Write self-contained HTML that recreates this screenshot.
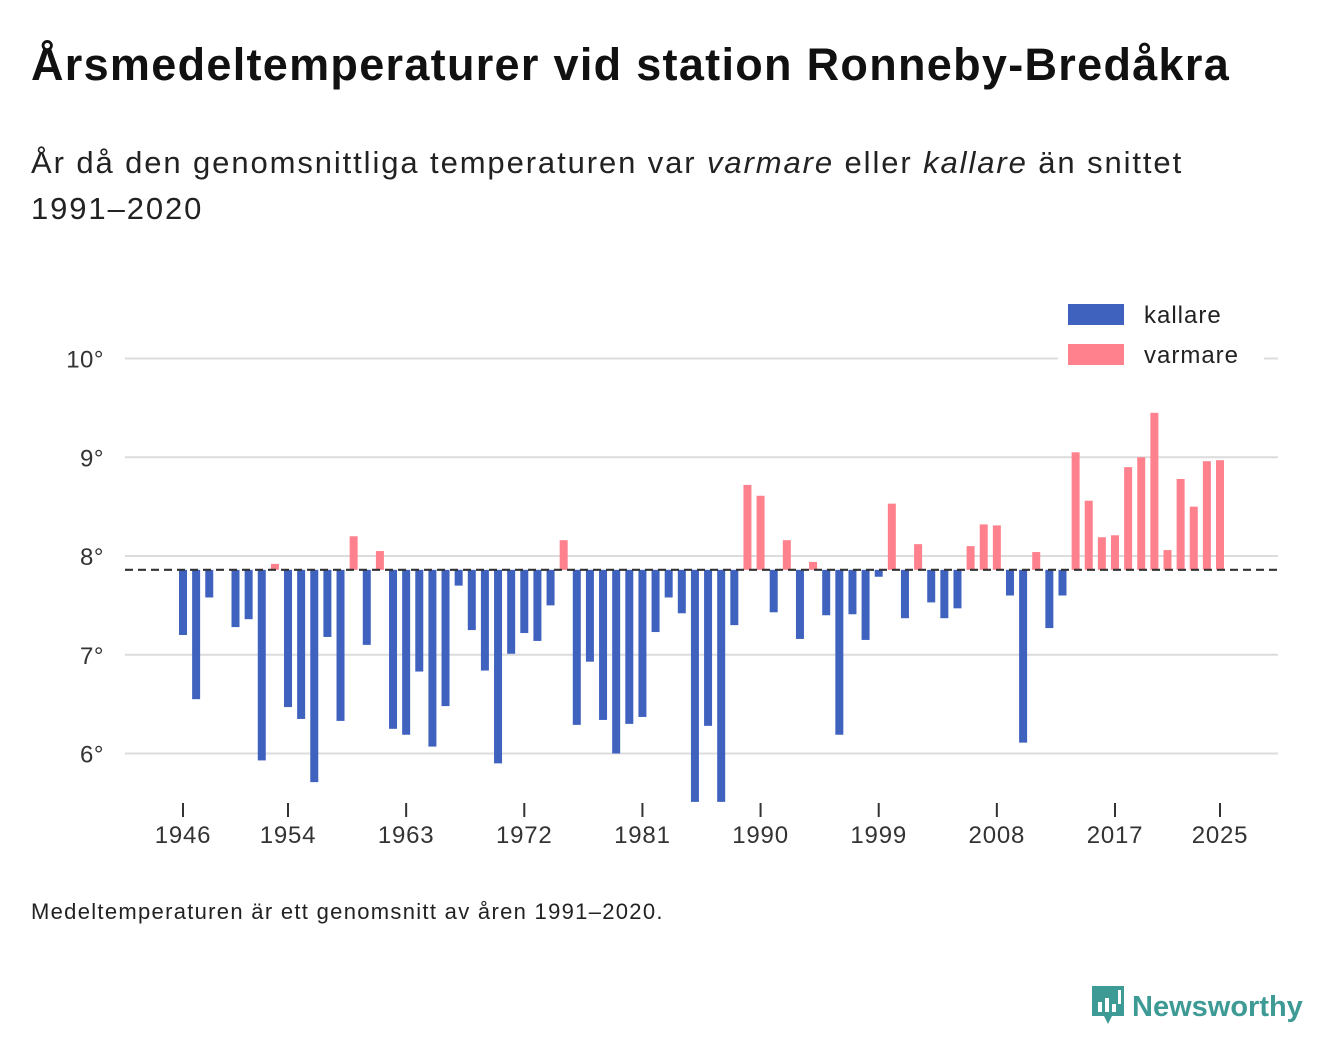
<!DOCTYPE html>
<html><head><meta charset="utf-8"><style>
body{margin:0;width:1340px;height:1056px;background:#fff;font-family:"Liberation Sans",sans-serif;color:#111;position:relative;overflow:hidden}
.t{position:absolute;left:31px;top:39px;font-size:45px;font-weight:bold;letter-spacing:1.3px;white-space:nowrap}
.s{position:absolute;left:31px;top:140px;font-size:31px;line-height:46px;color:#222;width:1250px;letter-spacing:1.9px}
.f{position:absolute;left:31px;top:899px;font-size:22px;color:#222;letter-spacing:1.3px}
.logo{position:absolute;left:1090px;top:984px;color:#3d9a94;font-size:29px;font-weight:bold}
</style></head><body>
<div class="t">Årsmedeltemperaturer vid station Ronneby-Bredåkra</div>
<div class="s">År då den genomsnittliga temperaturen var <i>varmare</i> eller <i>kallare</i> än snittet<br>1991–2020</div>
<svg id="c" width="1340" height="1056" style="position:absolute;left:0;top:0"></svg>
<div class="f">Medeltemperaturen är ett genomsnitt av åren 1991–2020.</div>
<div class="logo"><svg width="36" height="42" viewBox="0 0 36 42" style="vertical-align:-10px;margin-right:6px"><path d="M2 2h32v30h-12l-4 8-4-8H2z" fill="#3d9a94"/><rect x="8" y="18" width="4" height="10" fill="#fff"/><rect x="15" y="14" width="4" height="14" fill="#fff"/><rect x="22" y="20" width="4" height="8" fill="#fff"/><rect x="28" y="6" width="3" height="14" fill="#fff"/></svg>Newsworthy</div>
<script>
const years=[1946,1947,1948,1950,1951,1952,1953,1954,1955,1956,1957,1958,1959,1960,1961,1962,1963,1964,1965,1966,1967,1968,1969,1970,1971,1972,1973,1974,1975,1976,1977,1978,1979,1980,1981,1982,1983,1984,1985,1986,1987,1988,1989,1990,1991,1992,1993,1994,1995,1996,1997,1998,1999,2000,2001,2002,2003,2004,2005,2006,2007,2008,2009,2010,2011,2012,2013,2014,2015,2016,2017,2018,2019,2020,2021,2022,2023,2024,2025];
const temps=[7.20,6.55,7.58,7.28,7.36,5.93,7.92,6.47,6.35,5.71,7.18,6.33,8.20,7.10,8.05,6.25,6.19,6.83,6.07,6.48,7.70,7.25,6.84,5.90,7.01,7.22,7.14,7.50,8.16,6.29,6.93,6.34,6.00,6.30,6.37,7.23,7.58,7.42,5.51,6.28,5.51,7.30,8.72,8.61,7.43,8.16,7.16,7.94,7.40,6.19,7.41,7.15,7.79,8.53,7.37,8.12,7.53,7.37,7.47,8.10,8.32,8.31,7.60,6.11,8.04,7.27,7.60,9.05,8.56,8.19,8.21,8.90,9.00,9.45,8.06,8.78,8.50,8.96,8.97];
const baseline=7.86;
const yTicks=[6,7,8,9,10];
const xTicks=[1946,1954,1963,1972,1981,1990,1999,2008,2017,2025];
const NS='http://www.w3.org/2000/svg',svg=document.getElementById('c');
const X=y=>183+(y-1946)*(1220-183)/79;
const Y=v=>556-(v-8)*98.75;
function mk(t,a,p){const e=document.createElementNS(NS,t);for(const k in a)e.setAttribute(k,a[k]);(p||svg).appendChild(e);return e;}
yTicks.forEach(v=>{
 const l=mk('line',{x1:125,x2:1278,y1:Y(v),y2:Y(v),stroke:'#dcdcdc','stroke-width':2});
 
 
 const t=mk('text',{x:104,y:Y(v)+9,'text-anchor':'end','font-size':24,fill:'#333','letter-spacing':0.5});
 t.textContent=v+'°';
 
 
});
years.forEach((yr,i)=>{
 const v=temps[i],w=v>=baseline;
 const y1=Y(Math.max(v,baseline)),y2=Y(Math.min(v,baseline));
 const r=mk('rect',{x:X(yr)-4,y:y1,width:8,height:y2-y1,fill:w?'#ff818e':'#3f62bf'});
 
 
});
const bl=mk('line',{x1:125,x2:1278,y1:Y(baseline),y2:Y(baseline),stroke:'#333','stroke-width':2.2,'stroke-dasharray':'8,5'});


xTicks.forEach(yr=>{
 const l=mk('line',{x1:X(yr),x2:X(yr),y1:803,y2:817,stroke:'#333','stroke-width':2});
 
 
 const t=mk('text',{x:X(yr),y:843,'text-anchor':'middle','font-size':24,fill:'#333','letter-spacing':0.8});
 t.textContent=yr;
 
 
});
const lg=mk('rect',{x:1058,y:292,width:206,height:80,fill:'#fff'});


[['kallare','#3f62bf',304],['varmare','#ff818e',344]].forEach(([n,c,y])=>{
 const r=mk('rect',{x:1068,y:y,width:56,height:21,fill:c});
 
 
 const t=mk('text',{x:1144,y:y+19,'font-size':24,fill:'#222','letter-spacing':1});
 t.textContent=n;
 
 
});
</script>
</body></html>
